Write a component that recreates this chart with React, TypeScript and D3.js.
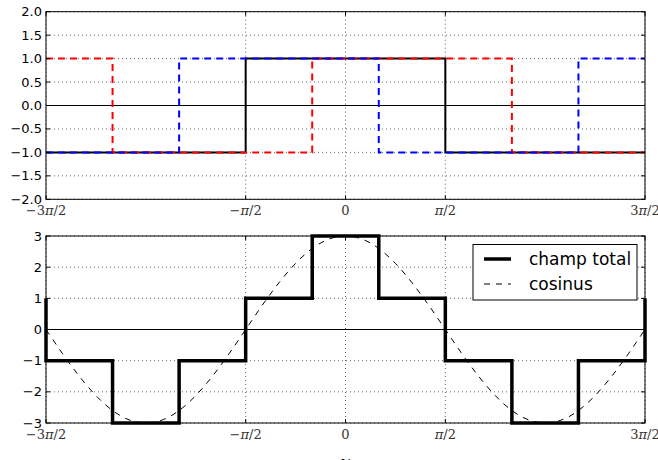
import React from "react";
import * as d3 from "d3";

// breakpoints of the square waves, in units of pi
const breaks = [-3 / 2, -7 / 6, -5 / 6, -1 / 2, -1 / 6, 1 / 6, 1 / 2, 5 / 6, 7 / 6, 3 / 2];
// value on each interval between breakpoints
const blackWave = [-1, -1, -1, 1, 1, 1, -1, -1, -1];
const redWave = [1, -1, -1, -1, 1, 1, 1, -1, -1];
const blueWave = [-1, -1, 1, 1, 1, -1, -1, -1, 1];
const totalWave = [-1, -3, -1, 1, 3, 1, -1, -3, -1];
const totalEdge = 1; // value at both ends of champ total

// cosinus curve, sampled every pi/12 from -3pi/2 to 3pi/2
const cosX = d3.range(-18, 19).map((k) => k / 12);
const cosY = [
  0, -0.78, -1.5, -2.12, -2.6, -2.9, -3, -2.9, -2.6, -2.12, -1.5, -0.78,
  0, 0.78, 1.5, 2.12, 2.6, 2.9, 3, 2.9, 2.6, 2.12, 1.5, 0.78,
  0, -0.78, -1.5, -2.12, -2.6, -2.9, -3, -2.9, -2.6, -2.12, -1.5, -0.78, 0,
];

const xTicks = [-3 / 2, -1 / 2, 0, 1 / 2, 3 / 2];
const xTickLabels = ["\u22123\u03c0/2", "\u2212\u03c0/2", "0", "\u03c0/2", "3\u03c0/2"];
const topYTicks = [-2, -1.5, -1, -0.5, 0, 0.5, 1, 1.5, 2];
const botYTicks = [-3, -2, -1, 0, 1, 2, 3];

const legendLabels = ["champ total", "cosinus"];

const left = 46;
const right = 645;
const PI = Math.PI;

const x = d3.scaleLinear().domain([-1.5 * PI, 1.5 * PI]).range([left, right]);
const yTop = d3.scaleLinear().domain([-2, 2]).range([199.3, 11.7]);
const yBot = d3.scaleLinear().domain([-3, 3]).range([423, 236]);

type Pt = [number, number];

function stepPoints(vals: number[], edge?: number): Pt[] {
  const pts: Pt[] = [];
  if (edge !== undefined) pts.push([breaks[0] * PI, edge]);
  vals.forEach((v, i) => pts.push([breaks[i] * PI, v]));
  pts.push([breaks[breaks.length - 1] * PI, vals[vals.length - 1]]);
  if (edge !== undefined) pts.push([breaks[breaks.length - 1] * PI, edge]);
  return pts;
}

const sansFont = "DejaVu Sans, sans-serif";
const serifFont = "DejaVu Serif, Liberation Serif, serif";

function Axes({
  y,
  yTicks,
  yFormat,
  labelBaseline,
  children,
}: {
  y: d3.ScaleLinear<number, number>;
  yTicks: number[];
  yFormat: (v: number) => string;
  labelBaseline: number;
  children: React.ReactNode;
}) {
  const [y0, y1] = y.range();
  const top = Math.min(y0, y1);
  const bottom = Math.max(y0, y1);
  return (
    <g>
      {/* dotted grid */}
      {yTicks.map((t) => (
        <line
          key={"gy" + t}
          x1={left}
          x2={right}
          y1={y(t)}
          y2={y(t)}
          stroke="#000"
          strokeWidth={0.6}
          strokeDasharray="1,3"
        />
      ))}
      {xTicks.map((t) => (
        <line
          key={"gx" + t}
          x1={x(t * PI)}
          x2={x(t * PI)}
          y1={top}
          y2={bottom}
          stroke="#000"
          strokeWidth={0.6}
          strokeDasharray="1,3"
        />
      ))}
      {/* y = 0 line */}
      <line x1={left} x2={right} y1={y(0)} y2={y(0)} stroke="#000" strokeWidth={1} />
      {children}
      {/* frame */}
      <rect x={left} y={top} width={right - left} height={bottom - top} fill="none" stroke="#000" strokeWidth={1} />
      {/* ticks, inward on all sides */}
      {yTicks.map((t) => (
        <g key={"ty" + t}>
          <line x1={left} x2={left + 4} y1={y(t)} y2={y(t)} stroke="#000" />
          <line x1={right - 4} x2={right} y1={y(t)} y2={y(t)} stroke="#000" />
          <text
            x={42}
            y={y(t) + 4.5}
            textAnchor="end"
            fontFamily={sansFont}
            fontSize={13}
            fill="#000"
          >
            {yFormat(t).replace("-", "\u2212")}
          </text>
        </g>
      ))}
      {xTicks.map((t, i) => (
        <g key={"tx" + t}>
          <line x1={x(t * PI)} x2={x(t * PI)} y1={bottom} y2={bottom - 4} stroke="#000" />
          <line x1={x(t * PI)} x2={x(t * PI)} y1={top} y2={top + 4} stroke="#000" />
          <text
            x={x(t * PI)}
            y={labelBaseline}
            textAnchor="middle"
            fontFamily={serifFont}
            fontSize={13}
            fill="#333"
          >
            {xTickLabels[i].split("\u03c0").map((part, j, arr) => (
              <React.Fragment key={j}>
                {part}
                {j < arr.length - 1 && <tspan fontStyle="italic">{"\u03c0"}</tspan>}
              </React.Fragment>
            ))}
          </text>
        </g>
      ))}
    </g>
  );
}

export default function App() {
  const lineTop = d3
    .line<Pt>()
    .x((d) => x(d[0]))
    .y((d) => yTop(d[1]))
    .curve(d3.curveStepAfter);
  const lineBot = d3
    .line<Pt>()
    .x((d) => x(d[0]))
    .y((d) => yBot(d[1]))
    .curve(d3.curveStepAfter);
  const cosLine = d3
    .line<number>()
    .x((d, i) => x(cosX[i] * PI))
    .y((d) => yBot(d))
    .curve(d3.curveNatural);

  return (
    <svg
      width={658}
      height={460}
      style={{ position: "absolute", left: 0, top: 0, background: "#fff" }}
    >
      <rect width={658} height={460} fill="#fff" />
      <Axes y={yTop} yTicks={topYTicks} yFormat={d3.format(".1f")} labelBaseline={215}>
        <path d={lineTop(stepPoints(blackWave)) || ""} fill="none" stroke="#000" strokeWidth={2} />
        <path
          d={lineTop(stepPoints(redWave)) || ""}
          fill="none"
          stroke="#ff0000"
          strokeWidth={2}
          strokeDasharray="7,5"
        />
        <path
          d={lineTop(stepPoints(blueWave)) || ""}
          fill="none"
          stroke="#0000ff"
          strokeWidth={2}
          strokeDasharray="7,5"
        />
      </Axes>
      <Axes y={yBot} yTicks={botYTicks} yFormat={d3.format("d")} labelBaseline={439}>
        <path
          d={lineBot(stepPoints(totalWave, totalEdge)) || ""}
          fill="none"
          stroke="#000"
          strokeWidth={3.5}
        />
        <path d={cosLine(cosY) || ""} fill="none" stroke="#000" strokeWidth={1} strokeDasharray="6,6" />
      </Axes>
      {/* legend */}
      <g>
        <rect x={473} y={244.5} width={164} height={55.5} fill="#fff" stroke="#000" strokeWidth={1} />
        <line x1={484} x2={511} y1={259} y2={259} stroke="#000" strokeWidth={3.5} />
        <line x1={484} x2={511} y1={284} y2={284} stroke="#000" strokeWidth={1} strokeDasharray="6,6" />
        {legendLabels.map((l, i) => (
          <text key={l} x={529} y={265 + i * 25} fontFamily={sansFont} fontSize={17} fill="#000">
            {l}
          </text>
        ))}
      </g>
      {/* x label, cut by the bottom edge */}
      <text x={345.5} y={468} textAnchor="middle" fontFamily={serifFont} fontStyle="italic" fontSize={17} fill="#000">
        x
      </text>
    </svg>
  );
}
